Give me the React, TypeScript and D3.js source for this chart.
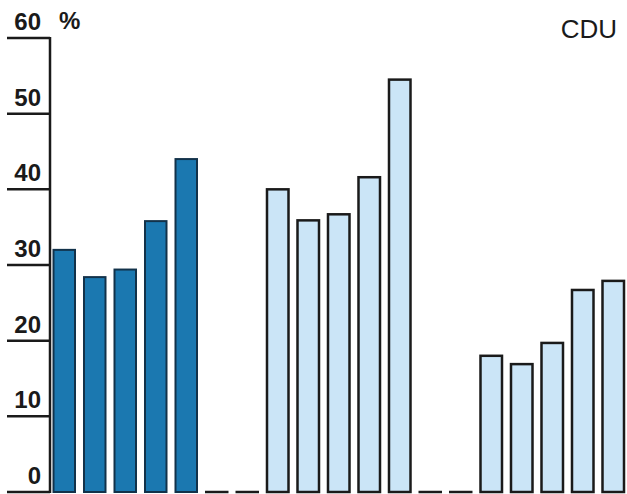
import React from "react";
import * as d3 from "d3";

const W = 627;
const H = 494;

// Three groups of five bars (percent)
const group1 = [32.0, 28.4, 29.4, 35.8, 44.0];
const group2 = [40.0, 35.9, 36.7, 41.6, 54.5];
const group3 = [18.0, 16.9, 19.7, 26.7, 27.9];
const groups = [group1, group2, group3];
const yTicks = [0, 10, 20, 30, 40, 50, 60];
const title = "CDU";
const unit = "%";

const SLOTS_PER_GROUP = 7; // 5 bars + 2 empty slots
const TOTAL_SLOTS = 19;

export default function App() {
  const slots = d3.range(TOTAL_SLOTS);
  const x = d3
    .scaleBand<number>()
    .domain(slots)
    .range([49, 49 + TOTAL_SLOTS * 30.5])
    .paddingInner(0.295)
    .paddingOuter(0.1475);
  const y = d3.scaleLinear().domain([0, 60]).range([492, 38]);

  const bars = groups.flatMap((g, gi) =>
    g.map((v, i) => ({ slot: gi * SLOTS_PER_GROUP + i, v, group: gi }))
  );
  const used = new Set(bars.map((b) => b.slot));
  const gaps = slots.filter((s) => !used.has(s));

  const font = "'Liberation Sans', Arial, Helvetica, sans-serif";

  return (
    <svg
      width={W}
      height={H}
      style={{ position: "absolute", left: 0, top: 0, background: "#fff" }}
    >
      {/* y ticks and labels */}
      {yTicks.map((t) => (
        <g key={t}>
          <line x1={7} x2={50} y1={y(t)} y2={y(t)} stroke="#1a1a1a" strokeWidth={2.5} />
          <text
            x={41}
            y={y(t) - 8}
            textAnchor="end"
            fontFamily={font}
            fontSize={24}
            fontWeight="bold"
            fill="#1a1a1a"
          >
            {t}
          </text>
        </g>
      ))}
      <text x={59} y={29} fontFamily={font} fontSize={24} fontWeight="bold" fill="#1a1a1a">
        {unit}
      </text>
      {/* y axis */}
      <line x1={50} x2={50} y1={y(60) - 1} y2={y(0) + 1} stroke="#1a1a1a" strokeWidth={2.5} />

      {/* gap dashes on the baseline */}
      {gaps.map((s) => (
        <line
          key={"g" + s}
          x1={x(s)! - 1}
          x2={x(s)! + x.bandwidth() + 1}
          y1={y(0)}
          y2={y(0)}
          stroke="#1a1a1a"
          strokeWidth={2.5}
        />
      ))}

      {/* bars */}
      {bars.map((b) => (
        <rect
          key={b.slot}
          x={x(b.slot)}
          y={y(b.v)}
          width={x.bandwidth()}
          height={y(0) - y(b.v)}
          fill={b.group === 0 ? "#1b78b0" : "#cbe5f7"}
          stroke={b.group === 0 ? "#12324a" : "#1a1a1a"}
          strokeWidth={b.group === 0 ? 2 : 2.5}
        />
      ))}

      <text x={617} y={38} textAnchor="end" fontFamily={font} fontSize={26} fill="#1a1a1a">
        {title}
      </text>
    </svg>
  );
}
